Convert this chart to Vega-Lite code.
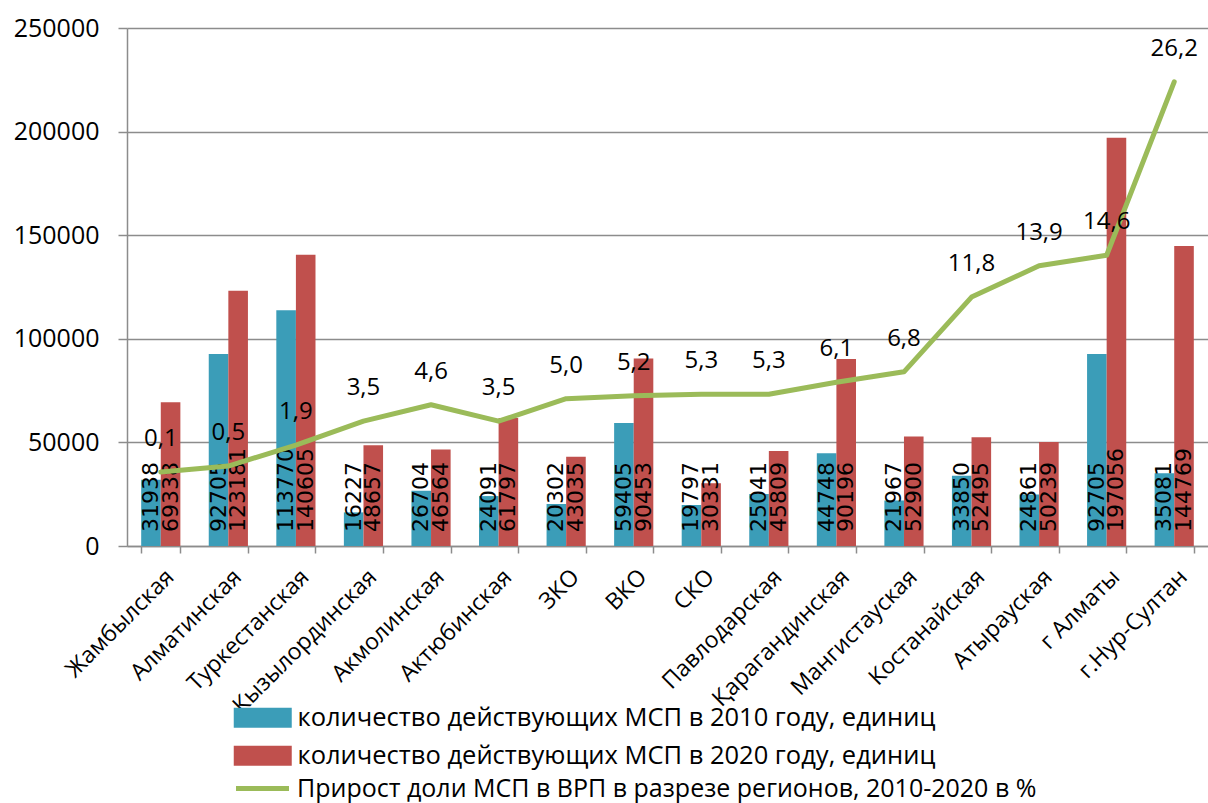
{
  "$schema": "https://vega.github.io/schema/vega-lite/v6.json",
  "width": 1081,
  "height": 518,
  "autosize": {"type": "none"},
  "padding": {"left": 127, "top": 28, "right": 0, "bottom": 257},
  "background": "white",
  "config": {
    "font": "Open Sans",
    "view": {"stroke": null},
    "locale": {"number": {"decimal": ",", "thousands": " ", "grouping": [3], "currency": ["", ""]}}
  },
  "datasets": {
    "bars": [
      {"region": "Жамбылская", "series": "количество действующих МСП в 2010 году, единиц", "value": 31938},
      {"region": "Жамбылская", "series": "количество действующих МСП в 2020 году, единиц", "value": 69338},
      {"region": "Алматинская", "series": "количество действующих МСП в 2010 году, единиц", "value": 92705},
      {"region": "Алматинская", "series": "количество действующих МСП в 2020 году, единиц", "value": 123181},
      {"region": "Туркестанская", "series": "количество действующих МСП в 2010 году, единиц", "value": 113770},
      {"region": "Туркестанская", "series": "количество действующих МСП в 2020 году, единиц", "value": 140605},
      {"region": "Кызылординская", "series": "количество действующих МСП в 2010 году, единиц", "value": 16227},
      {"region": "Кызылординская", "series": "количество действующих МСП в 2020 году, единиц", "value": 48657},
      {"region": "Акмолинская", "series": "количество действующих МСП в 2010 году, единиц", "value": 26704},
      {"region": "Акмолинская", "series": "количество действующих МСП в 2020 году, единиц", "value": 46564},
      {"region": "Актюбинская", "series": "количество действующих МСП в 2010 году, единиц", "value": 24091},
      {"region": "Актюбинская", "series": "количество действующих МСП в 2020 году, единиц", "value": 61797},
      {"region": "ЗКО", "series": "количество действующих МСП в 2010 году, единиц", "value": 20302},
      {"region": "ЗКО", "series": "количество действующих МСП в 2020 году, единиц", "value": 43035},
      {"region": "ВКО", "series": "количество действующих МСП в 2010 году, единиц", "value": 59405},
      {"region": "ВКО", "series": "количество действующих МСП в 2020 году, единиц", "value": 90453},
      {"region": "СКО", "series": "количество действующих МСП в 2010 году, единиц", "value": 19797},
      {"region": "СКО", "series": "количество действующих МСП в 2020 году, единиц", "value": 30331},
      {"region": "Павлодарская", "series": "количество действующих МСП в 2010 году, единиц", "value": 25041},
      {"region": "Павлодарская", "series": "количество действующих МСП в 2020 году, единиц", "value": 45809},
      {"region": "Қарагандинская", "series": "количество действующих МСП в 2010 году, единиц", "value": 44748},
      {"region": "Қарагандинская", "series": "количество действующих МСП в 2020 году, единиц", "value": 90196},
      {"region": "Мангистауская", "series": "количество действующих МСП в 2010 году, единиц", "value": 21967},
      {"region": "Мангистауская", "series": "количество действующих МСП в 2020 году, единиц", "value": 52900},
      {"region": "Костанайская", "series": "количество действующих МСП в 2010 году, единиц", "value": 33850},
      {"region": "Костанайская", "series": "количество действующих МСП в 2020 году, единиц", "value": 52495},
      {"region": "Атырауская", "series": "количество действующих МСП в 2010 году, единиц", "value": 24861},
      {"region": "Атырауская", "series": "количество действующих МСП в 2020 году, единиц", "value": 50239},
      {"region": "г Алматы", "series": "количество действующих МСП в 2010 году, единиц", "value": 92705},
      {"region": "г Алматы", "series": "количество действующих МСП в 2020 году, единиц", "value": 197056},
      {"region": "г.Нур-Султан", "series": "количество действующих МСП в 2010 году, единиц", "value": 35081},
      {"region": "г.Нур-Султан", "series": "количество действующих МСП в 2020 году, единиц", "value": 144769}
    ],
    "line": [
      {"region": "Жамбылская", "growth": 0.1},
      {"region": "Алматинская", "growth": 0.5},
      {"region": "Туркестанская", "growth": 1.9},
      {"region": "Кызылординская", "growth": 3.5},
      {"region": "Акмолинская", "growth": 4.6},
      {"region": "Актюбинская", "growth": 3.5},
      {"region": "ЗКО", "growth": 5.0},
      {"region": "ВКО", "growth": 5.2},
      {"region": "СКО", "growth": 5.3},
      {"region": "Павлодарская", "growth": 5.3},
      {"region": "Қарагандинская", "growth": 6.1},
      {"region": "Мангистауская", "growth": 6.8},
      {"region": "Костанайская", "growth": 11.8},
      {"region": "Атырауская", "growth": 13.9},
      {"region": "г Алматы", "growth": 14.6},
      {"region": "г.Нур-Султан", "growth": 26.2}
    ]
  },
  "layer": [
    {
      "data": {"name": "bars"},
      "layer": [
        {
          "mark": {"type": "bar"},
          "encoding": {
            "x": {
              "field": "region", "type": "nominal", "sort": null,
              "scale": {"paddingInner": 0.42, "paddingOuter": 0.21},
              "axis": {
                "title": null, "labelAngle": -45, "labelAlign": "right", "labelBaseline": "middle",
                "labelFont": "Open Sans", "labelFontSize": 23, "labelColor": "black", "labelLimit": 500,
                "tickBand": "extent", "tickSize": 7, "tickColor": "#8c8c8c", "tickWidth": 1.5,
                "domainColor": "#8c8c8c", "domainWidth": 1.5,
                "labelPadding": 20, "labelOffset": 9, "grid": false
              }
            },
            "xOffset": {"field": "series", "type": "nominal", "sort": null, "scale": {"paddingInner": 0, "paddingOuter": 0}},
            "y": {
              "field": "value", "type": "quantitative",
              "scale": {"domain": [0, 250000], "nice": false},
              "axis": {
                "title": null, "values": [0, 50000, 100000, 150000, 200000, 250000], "format": "d",
                "labelFont": "Open Sans", "labelFontSize": 25, "labelColor": "black",
                "tickSize": 9, "labelPadding": 19, "tickColor": "#8c8c8c", "tickWidth": 1.5,
                "grid": true, "gridColor": "#8c8c8c", "gridWidth": 1.5,
                "domainColor": "#8c8c8c", "domainWidth": 1.5
              }
            },
            "color": {
              "field": "series", "type": "nominal", "sort": null,
              "scale": {"range": ["#3B9DB8", "#C0504D"]},
              "legend": {
                "orient": "none", "legendX": 123, "legendY": 677, "title": null,
                "symbolType": "M-5.8,-2H5.8V2H-5.8Z", "symbolSize": 100, "symbolStrokeWidth": 0,
                "labelFont": "Open Sans", "labelFontSize": 25.5, "labelColor": "black", "labelLimit": 1000,
                "labelOffset": 22, "rowPadding": 11, "padding": 0
              }
            }
          }
        },
        {
          "mark": {"type": "text", "angle": 270, "align": "left", "baseline": "middle", "dx": 14, "font": "DejaVu Sans", "fontSize": 22, "color": "black"},
          "encoding": {
            "x": {"field": "region", "type": "nominal", "sort": null},
            "xOffset": {"field": "series", "type": "nominal", "sort": null},
            "y": {"datum": 0},
            "text": {"field": "value", "type": "quantitative", "format": "d"}
          }
        }
      ]
    },
    {
      "data": {"name": "line"},
      "layer": [
        {
          "mark": {"type": "line", "strokeWidth": 5, "strokeJoin": "round", "strokeCap": "round"},
          "encoding": {
            "x": {"field": "region", "type": "nominal", "sort": null},
            "y": {"field": "growth", "type": "quantitative", "scale": {"domain": [-4.85, 29.8], "nice": false, "zero": false}, "axis": null},
            "stroke": {
              "datum": "Прирост доли МСП в ВРП в разрезе регионов, 2010-2020 в %",
              "type": "nominal",
              "scale": {"range": ["#9BBB59"]},
              "legend": {
                "orient": "none", "legendX": 123, "legendY": 748, "title": null,
                "symbolType": "M-5.3,0H5.3", "symbolSize": 100, "symbolStrokeWidth": 5,
                "labelFont": "Open Sans", "labelFontSize": 25, "labelColor": "black", "labelLimit": 1000,
                "labelOffset": 22, "padding": 0
              }
            }
          }
        },
        {
          "mark": {"type": "text", "dy": -33, "baseline": "middle", "align": "center", "font": "Open Sans", "fontSize": 24, "color": "black"},
          "encoding": {
            "x": {"field": "region", "type": "nominal", "sort": null},
            "y": {"field": "growth", "type": "quantitative"},
            "text": {"field": "growth", "type": "quantitative", "format": ".1f"}
          }
        }
      ]
    }
  ],
  "resolve": {"scale": {"y": "independent"}}
}
